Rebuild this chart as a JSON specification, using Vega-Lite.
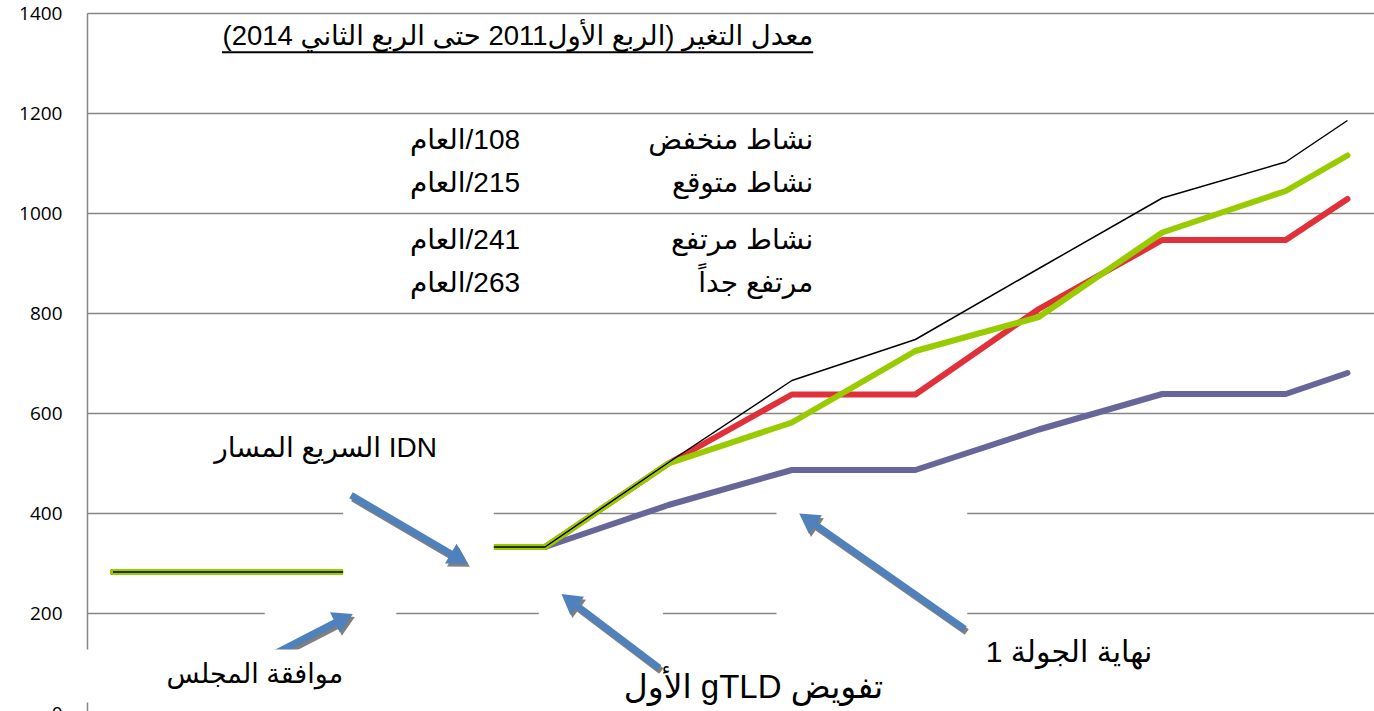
{
  "$schema": "https://vega.github.io/schema/vega-lite/v6.json",
  "width": 1287,
  "height": 700,
  "autosize": "none",
  "padding": {"left": 87, "top": 13, "right": 0, "bottom": 0},
  "background": "white",
  "config": {"view": {"stroke": null}},
  "datasets": {
    "series": [
      {"s": "نشاط منخفض", "t": 0, "v": 282}, {"s": "نشاط منخفض", "t": 4, "v": 282}, {"s": "نشاط منخفض", "t": 6, "v": 332}, {"s": "نشاط منخفض", "t": 7, "v": 332},
      {"s": "نشاط منخفض", "t": 9, "v": 416}, {"s": "نشاط منخفض", "t": 11, "v": 486}, {"s": "نشاط منخفض", "t": 13, "v": 486}, {"s": "نشاط منخفض", "t": 15, "v": 567},
      {"s": "نشاط منخفض", "t": 17, "v": 638}, {"s": "نشاط منخفض", "t": 19, "v": 638}, {"s": "نشاط منخفض", "t": 20, "v": 680},
      {"s": "نشاط متوقع", "t": 0, "v": 282}, {"s": "نشاط متوقع", "t": 4, "v": 282}, {"s": "نشاط متوقع", "t": 6, "v": 332}, {"s": "نشاط متوقع", "t": 7, "v": 332},
      {"s": "نشاط متوقع", "t": 9, "v": 499}, {"s": "نشاط متوقع", "t": 11, "v": 637}, {"s": "نشاط متوقع", "t": 13, "v": 637}, {"s": "نشاط متوقع", "t": 15, "v": 808},
      {"s": "نشاط متوقع", "t": 17, "v": 946}, {"s": "نشاط متوقع", "t": 19, "v": 946}, {"s": "نشاط متوقع", "t": 20, "v": 1028},
      {"s": "نشاط مرتفع", "t": 0, "v": 282}, {"s": "نشاط مرتفع", "t": 4, "v": 282}, {"s": "نشاط مرتفع", "t": 6, "v": 332}, {"s": "نشاط مرتفع", "t": 7, "v": 332},
      {"s": "نشاط مرتفع", "t": 9, "v": 499}, {"s": "نشاط مرتفع", "t": 11, "v": 581}, {"s": "نشاط مرتفع", "t": 13, "v": 724}, {"s": "نشاط مرتفع", "t": 15, "v": 792},
      {"s": "نشاط مرتفع", "t": 17, "v": 961}, {"s": "نشاط مرتفع", "t": 19, "v": 1044}, {"s": "نشاط مرتفع", "t": 20, "v": 1115},
      {"s": "مرتفع جداً", "t": 0, "v": 282}, {"s": "مرتفع جداً", "t": 4, "v": 282}, {"s": "مرتفع جداً", "t": 6, "v": 332}, {"s": "مرتفع جداً", "t": 7, "v": 332},
      {"s": "مرتفع جداً", "t": 9, "v": 501}, {"s": "مرتفع جداً", "t": 11, "v": 665}, {"s": "مرتفع جداً", "t": 13, "v": 747}, {"s": "مرتفع جداً", "t": 15, "v": 889},
      {"s": "مرتفع جداً", "t": 17, "v": 1030}, {"s": "مرتفع جداً", "t": 19, "v": 1102}, {"s": "مرتفع جداً", "t": 20, "v": 1185}
    ],
    "boxes": [
      {"b": "A", "t": 3.73, "t2": 6.17, "v": 225, "v2": 455},
      {"b": "B", "t": 2.46, "t2": 4.59, "v": 105, "v2": 245},
      {"b": "C", "t": 6.90, "t2": 8.91, "v": 85, "v2": 265},
      {"b": "D", "t": 10.75, "t2": 13.84, "v": 145, "v2": 445},
      {"b": "E", "t": -0.55, "t2": 3.76, "v": 21, "v2": 127}
    ],
    "arrows": [
      {"a": "idn", "t": 3.857, "v": 435.4, "t2": 5.611, "v2": 308.6},
      {"a": "council", "t": 2.415, "v": 105.4, "t2": 3.742, "v2": 189.6},
      {"a": "gtld", "t": 8.85, "v": 90, "t2": 7.394, "v2": 226},
      {"a": "round1", "t": 13.80, "v": 168, "t2": 11.25, "v2": 388}
    ],
    "texts": [
      {"kind": "title", "label": "\u202bمعدل التغير (الربع الأول2011 حتى الربع الثاني 2014)\u202c", "t": 11.345, "v": 1335.4},
      {"kind": "body", "label": "\u202bنشاط منخفض\u202c", "t": 11.345, "v": 1127.4},
      {"kind": "body", "label": "\u202bنشاط متوقع\u202c", "t": 11.345, "v": 1041.4},
      {"kind": "body", "label": "\u202bنشاط مرتفع\u202c", "t": 11.345, "v": 927.4},
      {"kind": "body", "label": "\u202bمرتفع جداً\u202c", "t": 11.345, "v": 841.4},
      {"kind": "body", "label": "\u202b108/العام\u202c", "t": 6.596, "v": 1127.4},
      {"kind": "body", "label": "\u202b215/العام\u202c", "t": 6.596, "v": 1041.4},
      {"kind": "body", "label": "\u202b241/العام\u202c", "t": 6.596, "v": 927.4},
      {"kind": "body", "label": "\u202b263/العام\u202c", "t": 6.596, "v": 841.4},
      {"kind": "body", "label": "\u202bIDN السريع المسار\u202c", "t": 5.251, "v": 511.4},
      {"kind": "council", "label": "\u202bموافقة المجلس\u202c", "t": 3.73, "v": 59.4},
      {"kind": "gtld", "label": "\u202bتفويض gTLD الأول\u202c", "t": 12.48, "v": 29.4},
      {"kind": "round1", "label": "\u202bنهاية الجولة 1\u202c", "t": 16.84, "v": 101.4}
    ],
    "underline": [
      {"t": 1.767, "t2": 11.345, "v": 1321.4}
    ]
  },
  "encoding": {
    "x": {"field": "t", "type": "quantitative", "scale": {"domain": [-0.42, 20.43], "nice": false, "zero": false}, "axis": null},
    "y": {"field": "v", "type": "quantitative", "scale": {"domain": [0, 1400], "nice": false},
      "axis": {"title": null, "values": [0, 200, 400, 600, 800, 1000, 1200, 1400], "format": "d", "grid": true, "ticks": false, "domainColor": "#868686", "domainWidth": 1.5, "gridColor": "#868686", "gridWidth": 1.5, "labelFont": "Open Sans", "labelFontSize": 19, "labelColor": "#000000", "labelPadding": 25}}
  },
  "layer": [
    {"data": {"name": "series"}, "transform": [{"filter": {"field": "s", "equal": "نشاط منخفض"}}],
     "mark": {"type": "line", "color": "#66669A", "strokeWidth": 6, "strokeCap": "round", "strokeJoin": "round"}, "encoding": {}},
    {"data": {"name": "series"}, "transform": [{"filter": {"field": "s", "equal": "نشاط متوقع"}}],
     "mark": {"type": "line", "color": "#E0303A", "strokeWidth": 6, "strokeCap": "round", "strokeJoin": "round"}, "encoding": {}},
    {"data": {"name": "series"}, "transform": [{"filter": {"field": "s", "equal": "نشاط مرتفع"}}],
     "mark": {"type": "line", "color": "#99CC00", "strokeWidth": 6, "strokeCap": "round", "strokeJoin": "round"}, "encoding": {}},
    {"data": {"name": "series"}, "transform": [{"filter": {"field": "s", "equal": "مرتفع جداً"}}],
     "mark": {"type": "line", "color": "#000000", "strokeWidth": 1.5, "strokeJoin": "round"}, "encoding": {}},
    {"data": {"name": "boxes"}, "transform": [{"filter": {"field": "b", "oneOf": ["A", "B", "C", "D"]}}],
     "mark": {"type": "rect", "color": "#ffffff"}, "encoding": {"x2": {"field": "t2"}, "y2": {"field": "v2"}}},
    {"data": {"name": "arrows"},
     "mark": {"type": "rule", "color": "#7F7F7F", "strokeWidth": 7, "strokeCap": "butt", "xOffset": 2, "x2Offset": 2, "yOffset": 3, "y2Offset": 3},
     "encoding": {"x2": {"field": "t2"}, "y2": {"field": "v2"}}},
    {"data": {"name": "arrows"},
     "mark": {"type": "point", "shape": "triangle-up", "filled": true, "opacity": 1, "color": "#7F7F7F", "size": 520, "xOffset": 2, "yOffset": 3},
     "encoding": {"x": {"field": "t2", "type": "quantitative"}, "y": {"field": "v2", "type": "quantitative"},
       "angle": {"field": "a", "type": "nominal", "scale": {"type": "ordinal", "domain": ["idn", "council", "gtld", "round1"], "range": [120.4, 64.6, 307, 304.6]}, "legend": null}}},
    {"data": {"name": "arrows"},
     "mark": {"type": "rule", "color": "#4F81BD", "strokeWidth": 7, "strokeCap": "butt"},
     "encoding": {"x2": {"field": "t2"}, "y2": {"field": "v2"}}},
    {"data": {"name": "arrows"},
     "mark": {"type": "point", "shape": "triangle-up", "filled": true, "opacity": 1, "color": "#4F81BD", "size": 520},
     "encoding": {"x": {"field": "t2", "type": "quantitative"}, "y": {"field": "v2", "type": "quantitative"},
       "angle": {"field": "a", "type": "nominal", "scale": {"type": "ordinal", "domain": ["idn", "council", "gtld", "round1"], "range": [120.4, 64.6, 307, 304.6]}, "legend": null}}},
    {"data": {"name": "boxes"}, "transform": [{"filter": {"field": "b", "equal": "E"}}],
     "mark": {"type": "rect", "color": "#ffffff"}, "encoding": {"x2": {"field": "t2"}, "y2": {"field": "v2"}}},
    {"data": {"name": "texts"},
     "mark": {"type": "text", "align": "right", "baseline": "alphabetic", "font": "Liberation Sans, DejaVu Sans, sans-serif", "color": "#000000"},
     "encoding": {"text": {"field": "label"},
       "size": {"field": "kind", "type": "nominal", "scale": {"type": "ordinal", "domain": ["title", "body", "council", "gtld", "round1"], "range": [27.5, 28, 27, 33, 30]}, "legend": null}}},
    {"data": {"name": "underline"},
     "mark": {"type": "rule", "color": "#000000", "strokeWidth": 2},
     "encoding": {"x2": {"field": "t2"}}}
  ]
}
